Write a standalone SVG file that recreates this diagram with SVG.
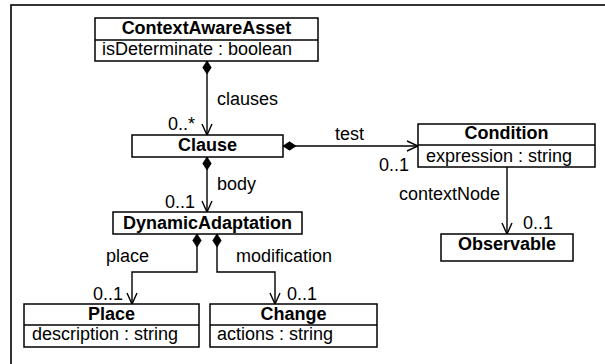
<svg xmlns="http://www.w3.org/2000/svg" width="605" height="364" viewBox="0 0 605 364">
<style>
.box{fill:#fff;stroke:#000;stroke-width:1.5}
.div{stroke:#000;stroke-width:1.3}
.t{font-family:"Liberation Sans",Arial,Helvetica,sans-serif;font-size:18px;fill:#000}
.b{font-weight:bold;text-anchor:middle}
.c{fill:none;stroke:#000;stroke-width:1.4}
</style>
<defs>
<marker id="dia" markerUnits="userSpaceOnUse" markerWidth="20" markerHeight="20" refX="0" refY="0" orient="auto" overflow="visible">
<path d="M0,0 L6.5,-4.2 L13,0 L6.5,4.2 Z" fill="#000" stroke="#000" stroke-width="0.8"/>
</marker>
<marker id="arr" markerUnits="userSpaceOnUse" markerWidth="20" markerHeight="20" refX="0" refY="0" orient="auto" overflow="visible">
<path d="M-11,-5 L0,0 L-11,5" fill="none" stroke="#000" stroke-width="1.4"/>
</marker>
</defs>
<rect x="11" y="5" width="620" height="400" fill="#fff" stroke="#000" stroke-width="1.6"/>

<g id="connectors">
<path class="c" d="M207,61 V135" marker-start="url(#dia)" marker-end="url(#arr)"/>
<path class="c" d="M283,146 H418" marker-start="url(#dia)" marker-end="url(#arr)"/>
<path class="c" d="M207,157 V212" marker-start="url(#dia)" marker-end="url(#arr)"/>
<path class="c" d="M197,234 V272 H132 V304" marker-start="url(#dia)" marker-end="url(#arr)"/>
<path class="c" d="M217,234 V272 H275 V304" marker-start="url(#dia)" marker-end="url(#arr)"/>
<path class="c" d="M507,167 V234" marker-end="url(#arr)"/>
<text class="t" x="217" y="105">clauses</text>
<text class="t" x="168" y="130">0..*</text>
<text class="t" x="335" y="140">test</text>
<text class="t" x="379" y="171">0..1</text>
<text class="t" x="217" y="190">body</text>
<text class="t" x="165" y="208">0..1</text>
<text class="t" x="399" y="200">contextNode</text>
<text class="t" x="523" y="229">0..1</text>
<text class="t" x="106" y="262">place</text>
<text class="t" x="236" y="262">modification</text>
<text class="t" x="93" y="300">0..1</text>
<text class="t" x="287" y="300">0..1</text>
</g>

<g id="ContextAwareAsset">
<rect class="box" x="95" y="18" width="223" height="43"/>
<line class="div" x1="95" y1="40" x2="318" y2="40"/>
<text class="t b" x="206.5" y="34">ContextAwareAsset</text>
<text class="t" x="102" y="55">isDeterminate : boolean</text>
</g>

<g id="Clause">
<rect class="box" x="132" y="135" width="151" height="22"/>
<text class="t b" x="207.5" y="151">Clause</text>
</g>

<g id="Condition">
<rect class="box" x="418" y="124" width="177" height="43"/>
<line class="div" x1="418" y1="145" x2="595" y2="145"/>
<text class="t b" x="506.5" y="139">Condition</text>
<text class="t" x="426" y="162">expression : string</text>
</g>

<g id="Observable">
<rect class="box" x="441" y="234" width="132" height="27"/>
<text class="t b" x="507" y="250">Observable</text>
</g>

<g id="DynamicAdaptation">
<rect class="box" x="113" y="212" width="189" height="22"/>
<text class="t b" x="207.5" y="229">DynamicAdaptation</text>
</g>

<g id="Place">
<rect class="box" x="24" y="304" width="175" height="43"/>
<line class="div" x1="24" y1="325" x2="199" y2="325"/>
<text class="t b" x="111.5" y="320">Place</text>
<text class="t" x="32" y="340">description : string</text>
</g>

<g id="Change">
<rect class="box" x="210" y="304" width="167" height="43"/>
<line class="div" x1="210" y1="325" x2="377" y2="325"/>
<text class="t b" x="293.5" y="320">Change</text>
<text class="t" x="217" y="340">actions : string</text>
</g>
</svg>
